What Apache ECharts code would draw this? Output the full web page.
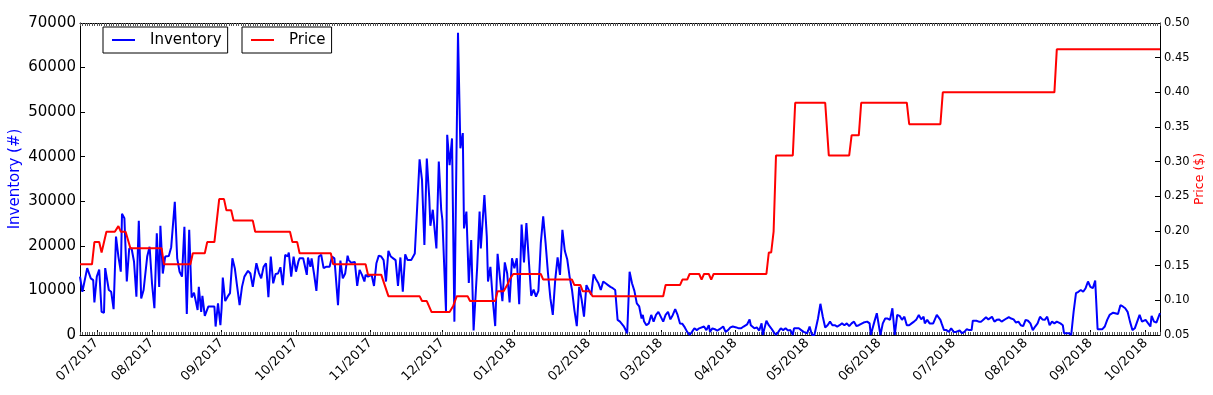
<!DOCTYPE html>
<html>
<head>
<meta charset="utf-8">
<script src="https://cdn.jsdelivr.net/npm/echarts@6/dist/echarts.min.js"></script>
<style>
html,body{margin:0;padding:0;background:#fff;}
#chart{width:1213px;height:395px;}
</style>
</head>
<body>
<div id="chart"></div>
<script>
// Month tick labels and their position on the day index axis
const monthLabels = ['07/2017','08/2017','09/2017','10/2017','11/2017','12/2017','01/2018','02/2018','03/2018','04/2018','05/2018','06/2018','07/2018','08/2018','09/2018','10/2018'];
const monthTicks = [7, 30, 59, 90, 121, 151, 181, 212, 242, 273, 303, 333, 364, 394, 421, 444];
const dayCount = 450;

// Inventory (#): [day index, value]
const inventory = [
[0,13100],[1,9700],[3,15000],[4.5,12700],[5.5,12300],[6,7300],[7,13100],[8,14700],[9,5200],[10,5000],[10.5,15000],[12,10100],[13,9700],[14,5800],[15,22100],[16,17600],[17,14200],[17.5,27200],[18.5,26200],[19.5,12000],[20.5,19400],[21.5,19400],[22.5,16500],[23.5,8600],[24.5,25600],[25.5,8200],[26.5,10100],[28,17600],[29,19800],[30,11600],[31,6000],[32,22800],[33,10800],[33.5,24500],[34.5,13800],[35.5,17600],[37,17700],[38,19700],[39.5,29900],[40.5,17200],[41.5,14200],[42.5,13100],[43.5,24300],[44.5,4700],[45.5,23600],[46.5,8400],[47.5,9500],[49,5600],[49.5,10800],[50.5,5200],[51,8800],[52,4300],[53.5,6400],[55,6400],[56,6400],[56.5,1900],[57.5,7100],[58.5,2200],[59,6000],[59.5,12900],[60.5,7600],[61.5,8600],[62.5,9400],[63.5,17200],[64.5,15000],[65.5,10800],[66.5,6700],[67.5,10800],[68.5,13100],[70,14400],[71,13800],[72,10800],[72.5,11000],[73.5,16100],[74.5,14000],[75.5,12700],[76.5,15300],[77.5,16100],[78.5,8500],[79.5,17600],[80.5,11600],[81.5,13700],[82.5,13800],[83.5,15200],[84.5,11200],[85.5,18000],[86.5,17600],[87,18500],[88,13100],[89,17600],[90,14200],[91,16500],[91.5,17200],[93,17200],[94.5,13500],[95,17400],[96,15300],[96.5,17200],[97.5,13800],[98.5,9900],[99.5,17600],[100.5,18000],[101.5,15000],[102.5,15300],[103,15700],[104,15300],[105,17600],[106,17200],[106.5,17200],[107.5,6700],[108.5,16700],[109.5,12700],[110.5,13800],[111.5,17800],[112,16800],[113,16200],[114.5,16400],[115.5,11000],[116.5,14600],[117.5,13500],[118.5,12000],[119,13500],[120,13100],
[121.5,13500],[122.5,11000],[123.5,16100],[124.5,17800],[125.5,17600],[126.5,16800],[127.5,12000],[128.5,18900],[129.5,17600],[130.5,17200],[131.5,16800],[132.5,11000],[133.5,17400],[134.5,9700],[135.5,18100],[136.5,16800],[137,17200],[138,16800],[139.5,18300],[140.5,28800],[141.5,39400],[142.5,34800],[143.5,20200],[144.5,39600],[145.5,31000],[146,24500],[147,28100],[148.5,19400],[149.5,38900],[150.5,28100],[151,25800],[152.5,5200],[153,44900],[154,38100],[155,44100],[156,3000],[157.5,67800],[158.5,41900],[159.5,45300],[160,23900],[161,27700],[162,11700],[163,21300],[164,1000],[165.5,15300],[166.5,27700],[167,19400],[168.5,31400],[169.5,22100],[170,12000],[171,15300],[172,7900],[173,2000],[174,18200],[175,12700],[176,7600],[177,16300],[178,13800],[179,7300],[180,17200],[181,15000],[182,17200],[183,6900],[184,24800],[185,16300],[186,25100],[187,16800],[188,8800],[189,10200],[190,8600],[191,9900],[192,20600],[193,26600],[194,20600],[195,13800],[196,8200],[197,4500],[198,12300],[199,17400],[200,13500],[201,23600],[202,18900],[203,17000],[204,13100],[205,10100],[206,5600],[207,2000],[208,10800],[209,8000],[210,4100],[211,11200],[212,10100],[213,9000],[214,13600],[215,12500],[216,11600],[217,10100],[218,12000],[219,11600],[220,11200],[221,10800],[222,10500],[223,10100],[224,3400],[225,3000],[226.5,2000],[227,1500],[228,400],[229,14200],[230,11600],[231,9900],[232,7100],[233,6400],[234,3700],[234.5,4500],[235,3100],[236,2200],[237,2600],[238,4500],[239,3000],[240,4500],[241,5200],
[243,3000],[244,4500],[245,5200],[246,3500],[247,4500],[248,5800],[249,4500],[250,2600],[251,2500],[252,1700],[253,700],[254,0],[255,700],[256,1500],[257,1100],[258,1500],[260,1900],[261,1100],[262,2200],[262.5,700],[263.5,1500],[264.5,1300],[265.5,1000],[266.5,1300],[268,1900],[269,700],[270,1100],[271,1700],[272,1900],[273.5,1700],[274.5,1500],[275.5,1500],[276.5,1900],[278,2400],[279,3500],[279.5,2200],[281,1500],[282,1700],[283,1000],[284,2600],[284.5,0],[286,3200],[287,2200],[288,1500],[289,700],[290,0],[291,700],[292,1500],[293,1100],[294,1500],[295,1000],[296,1100],[297,0],[297.5,1500],[298.5,1500],[299.5,1500],[300.5,1100],[301.5,700],[303,400],[304,1900],[305,0],[306,0],[306.5,0],[307.5,3700],[308.5,7000],[309.5,4100],[310.5,1700],[311.5,2200],[312.5,3000],[313.5,2200],[314.5,2200],[315.5,1900],[316.5,2200],[317.5,2600],[318.5,2200],[319.5,2600],[320.5,2000],[321.5,2600],[322.5,3000],[323.5,2000],[324.5,2200],[325.5,2500],[326.5,2800],[328,3000],[329,2600],[329.5,0],[331,3000],[332,4900],[332.5,5200],[333.5,0],[334.5,2600],[335.5,3700],[336.5,3700],[337.5,3400],[338.5,6000],[339.5,0],[340.5,4500],[341.5,4300],[342.5,3400],[343.5,4100],[344.5,2200],[345.5,2200],[346.5,2600],[347.5,3000],[348.5,3500],[349.5,4500],[350.5,3500],[351.5,4100],[352,2600],[353,3400],[354,2600],[355.5,2600],[356,3000],[357,4500],[358.5,3400],[359,2600],[360,1100],[361,1100],[362,700],
[363,1500],[364,700],[365,700],[366.5,1000],[367.5,400],[368.5,700],[369.5,1300],[370.5,1100],[371.5,1100],[372,3200],[373.5,3200],[374.5,3000],[375.5,3000],[376.5,3500],[377.5,4000],[378.5,3500],[379,3700],[380,4100],[381,3000],[382,3400],[383,3500],[384,3000],[384.5,3200],[386,3700],[387,4000],[388,3700],[389,3500],[390,2800],[391,3000],[392,2200],[393,2000],[394,3400],[395,3200],[396,2600],[397,1100],[398,1900],[399,2600],[400,4100],[401,3500],[402,3400],[403,4100],[404,2200],[405,3000],[406,2600],[407,3000],[408.5,2600],[409.5,2200],[410,400],[411,400],[412,400],[413,0],[414,5200],[415,9400],[416,9700],[417,10100],[418,9700],[419,10500],[420,12000],[421,10800],[422,10500],[423,12200],[424,1300],[425,1300],[426,1300],[427,1900],[428,3400],[429,4500],[430.5,5000],[431,5200],[432.5,4700],[433.5,6700],[434.5,6400],[435.5,6000],[436.5,5200],[437.5,3000],[438.5,1100],[439.5,1500],[440.5,3000],[441.5,4500],[442.5,3000],[444,3400],[444.5,3200],[446,1900],[446.5,4300],[447.5,3000],[448.5,2800],[450,4900]
];

// Price ($): [day index, value]
const price = [
[0,0.152],[5,0.152],[6,0.184],[8,0.184],[9,0.169],[11,0.199],[14.5,0.199],[16,0.207],[17,0.199],[19,0.199],[21,0.175],[34,0.175],[35,0.152],[46,0.152],[47,0.168],[52,0.168],[53,0.184],[56,0.184],[58,0.246],[60,0.246],[61,0.230],[63,0.230],[64,0.215],[72,0.215],[73,0.199],[87.5,0.199],[88.5,0.184],[90.5,0.184],[91.5,0.168],[104.5,0.168],[105.5,0.152],[119,0.152],[120,0.137],[125.5,0.137],[128.5,0.106],[141.5,0.106],[142.5,0.099],[144.5,0.099],[146.5,0.083],[154,0.083],[155.5,0.092],[157,0.106],[161.5,0.106],[162.5,0.099],[173,0.099],[174,0.113],[176.5,0.113],[178,0.122],[179,0.130],[180.5,0.138],[192,0.138],[193,0.130],[205,0.130],[206,0.122],[208.5,0.122],[209.5,0.113],[212.5,0.113],[213.5,0.106],[243,0.106],[244,0.122],[250,0.122],[251,0.130],[253,0.130],[254,0.138],[258,0.138],[259,0.130],[260,0.138],[262,0.138],[263,0.130],[264,0.138],[286,0.138],[287,0.169],[288,0.169],[289,0.199],[290,0.309],[297,0.309],[298,0.385],[310.5,0.385],[312,0.309],[320.5,0.309],[321.5,0.338],[324.5,0.338],[325.5,0.385],[344.5,0.385],[345.5,0.354],[358.5,0.354],[359.5,0.400],[406,0.400],[407,0.462],[450,0.462]
];

const FONT = 'DejaVu Sans';
const chart = echarts.init(document.getElementById('chart'), null, {renderer: 'canvas'});

const dailyTicks = (pos, showLine) => ({
  type: 'value', min: 0, max: dayCount, interval: 1, position: pos,
  axisLine: {show: showLine, onZero: false, lineStyle: {color: '#000', width: 1}},
  axisTick: {show: true, inside: true, length: 3, lineStyle: {color: '#555', width: 1}},
  axisLabel: {show: false}, splitLine: {show: false}
});

chart.setOption({
  animation: false,
  backgroundColor: '#fff',
  textStyle: {fontFamily: FONT},
  grid: {left: 80, right: 53, top: 23, bottom: 60, containLabel: false, outerBoundsMode: 'none'},
  legend: [
    {data: ['Inventory'], left: 103, top: 27, orient: 'horizontal',
     icon: 'rect', itemWidth: 23, itemHeight: 2,
     borderColor: '#000', borderWidth: 1, borderRadius: 0, padding: [4, 6, 4, 9],
     textStyle: {fontFamily: FONT, fontSize: 15, color: '#000', padding: [0, 0, 0, 10], lineHeight: 18}},
    {data: ['Price'], left: 242, top: 27, orient: 'horizontal',
     icon: 'rect', itemWidth: 23, itemHeight: 2,
     borderColor: '#000', borderWidth: 1, borderRadius: 0, padding: [4, 6, 4, 9],
     textStyle: {fontFamily: FONT, fontSize: 15, color: '#000', padding: [0, 0, 0, 10], lineHeight: 18}}
  ],
  xAxis: [
    {
      type: 'value', min: 0, max: dayCount, position: 'bottom',
      axisLine: {show: true, onZero: false, lineStyle: {color: '#000', width: 1}},
      axisTick: {show: true, inside: true, length: 5, customValues: monthTicks, lineStyle: {color: '#000'}},
      axisLabel: {
        customValues: monthTicks, rotate: 45, margin: 6,
        fontFamily: FONT, fontSize: 13, color: '#000',
        formatter: v => monthLabels[monthTicks.indexOf(v)] || ''
      },
      splitLine: {show: false}
    },
    dailyTicks('bottom', false),
    dailyTicks('top', true)
  ],
  yAxis: [
    {
      type: 'value', min: 0, max: 70000, interval: 10000, position: 'left',
      name: 'Inventory (#)', nameLocation: 'middle', nameGap: 57, nameMoveOverlap: false,
      nameTextStyle: {color: '#0000ff', fontFamily: FONT, fontSize: 15},
      axisLine: {show: true, onZero: false, lineStyle: {color: '#000', width: 1}},
      axisTick: {show: true, inside: true, length: 5, lineStyle: {color: '#000'}},
      axisLabel: {fontFamily: FONT, fontSize: 15, color: '#000', margin: 4, formatter: v => String(v)},
      splitLine: {show: false}
    },
    {
      type: 'value', min: 0.05, max: 0.5, interval: 0.05, position: 'right',
      name: 'Price ($)', nameLocation: 'middle', nameGap: 33, nameMoveOverlap: false,
      nameTextStyle: {color: '#ff0000', fontFamily: FONT, fontSize: 12.5},
      axisLine: {show: true, onZero: false, lineStyle: {color: '#000', width: 1}},
      axisTick: {show: true, inside: true, length: 5, lineStyle: {color: '#000'}},
      axisLabel: {fontFamily: FONT, fontSize: 11.5, color: '#000', margin: 4, formatter: v => v.toFixed(2)},
      splitLine: {show: false}
    }
  ],
  series: [
    {name: 'Inventory', type: 'line', xAxisIndex: 0, yAxisIndex: 0, data: inventory,
     symbol: 'none', color: '#0000ff', lineStyle: {color: '#0000ff', width: 2}},
    {name: 'Price', type: 'line', xAxisIndex: 0, yAxisIndex: 1, data: price,
     symbol: 'none', color: '#ff0000', lineStyle: {color: '#ff0000', width: 2}}
  ]
});
</script>
</body>
</html>
